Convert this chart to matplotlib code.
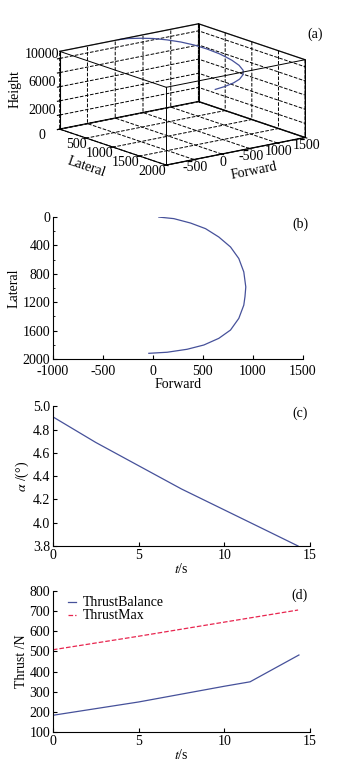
import numpy as np
import matplotlib
matplotlib.use("Agg")
import matplotlib.pyplot as plt
from matplotlib.ticker import FixedLocator, FixedFormatter, MultipleLocator, FormatStrFormatter

plt.rcParams['font.family'] = ['Liberation Serif', 'DejaVu Serif']
plt.rcParams['mathtext.fontset'] = 'stix'
plt.rcParams['font.size'] = 10
plt.rcParams['axes.unicode_minus'] = False

# trajectory
forward = [60, 210, 377, 527, 660, 777, 860, 910, 930, 922, 910, 860, 777, 660, 510, 343, 143, -40]
lateral = [0, 22, 84, 163, 281, 421, 584, 773, 985, 1120, 1241, 1428, 1592, 1709, 1803, 1863, 1905, 1920]
height = [11000, 10980, 10920, 10850, 10750, 10620, 10480, 10320, 10150, 10030, 9920,
          9750, 9580, 9440, 9300, 9180, 9080, 9000]

# angle of attack
t_alpha = [0, 2.5, 5, 7.5, 10, 12.5, 14.3]
alpha = [4.91, 4.69, 4.49, 4.29, 4.11, 3.93, 3.80]

# thrust
t_bal = [0, 5, 10, 11.5, 14.35]
thrust_bal = [183, 249, 327, 349, 482]
t_max = [0, 5, 10, 14.3]
thrust_max = [508, 575, 645, 705]

blue = '#46519a'
red = '#e8254f'

fig = plt.figure(figsize=(3.48, 7.63), dpi=100)

# ---- (a) 3D ----
ax3 = fig.add_axes([0.017, 0.753, 1.0, 0.24], projection='3d', proj_type='ortho')
ax3.plot(forward, lateral, height, color=blue, lw=0.9, clip_on=False)
ax3.set_xlim(-1000, 1500)
ax3.set_ylim(2000, 0)
ax3.set_zlim(0, 11000)
ax3.view_init(elev=15, azim=-127.5)
ax3.set_box_aspect((1, 1, 0.46), zoom=1.38)
for a in (ax3.xaxis, ax3.yaxis, ax3.zaxis):
    a.pane.fill = False
    a.pane.set_edgecolor('black')
    a._axinfo['grid']['linestyle'] = '--'
    a._axinfo['grid']['color'] = 'black'
    a._axinfo['grid']['linewidth'] = 0.7
    a.line.set_color('black')
ax3.xaxis.set_major_locator(FixedLocator([-1000, -500, 0, 500, 1000, 1500]))
ax3.xaxis.set_major_formatter(FixedFormatter(['', '-500', '0', '-500', '1000', '1500']))
ax3.yaxis.set_major_locator(FixedLocator([0, 500, 1000, 1500, 2000]))
ax3.yaxis.set_major_formatter(FixedFormatter(['', '500', '1000', '1500', '2000']))
ax3.zaxis.set_major_locator(FixedLocator([0, 2000, 4000, 6000, 8000, 10000]))
ax3.zaxis.set_major_formatter(FixedFormatter(['0', '2000', '', '6000', '', '10000']))
ax3.tick_params(axis='both', labelsize=10)
ax3.xaxis.set_tick_params(pad=-7)
ax3.yaxis.set_tick_params(pad=-8)
ax3.zaxis.set_tick_params(pad=-3)
for tk in ax3.yaxis.get_major_ticks():
    tk.label1.set_horizontalalignment('right')
for tk in ax3.zaxis.get_major_ticks()[1:]:
    tk.label1.set_verticalalignment('baseline')
ax3.set_xlabel('Forward', labelpad=-9)
ax3.set_ylabel('Lateral', labelpad=-8)
ax3.set_zlabel('Height', labelpad=-8.5)
# box edges
xl, yl, zl = (-1000, 1500), (0, 2000), (0, 11000)
for x in xl:
    for y in yl:
        ax3.plot([x, x], [y, y], zl, color='black', lw=0.7, clip_on=False)
for x in xl:
    ax3.plot([x, x], yl, [zl[1]] * 2, color='black', lw=0.7, clip_on=False)
for y in yl:
    ax3.plot(xl, [y, y], [zl[1]] * 2, color='black', lw=0.7, clip_on=False)
fig.text(0.905, 0.955, '(a)', ha='center', va='center', fontsize=10)


def style2d(ax):
    for s in ('top', 'right'):
        ax.spines[s].set_visible(False)
    ax.tick_params(direction='in', length=3, labelsize=10, pad=2)
    ax.tick_params(which='minor', direction='in', length=1.5)


# ---- (b) ----
axb = fig.add_axes([0.152, 0.5295, 0.718, 0.186])
axb.plot(forward, lateral, color=blue, lw=0.9)
axb.set_xlim(-1000, 1500)
axb.set_ylim(2000, 0)
axb.set_yticks([0, 400, 800, 1200, 1600, 2000])
axb.yaxis.set_minor_locator(MultipleLocator(200))
axb.set_xlabel('Forward', labelpad=0)
axb.set_ylabel('Lateral', labelpad=1)
style2d(axb)
axb.tick_params(axis='x', pad=4)
axb.text(0.99, 0.95, '(b)', transform=axb.transAxes, ha='center', va='center', fontsize=10)

# ---- (c) ----
axc = fig.add_axes([0.152, 0.2844, 0.739, 0.183])
axc.plot(t_alpha, alpha, color=blue, lw=0.9)
axc.set_xlim(0, 15)
axc.set_ylim(3.8, 5.0)
axc.set_xticks([0, 5, 10, 15])
axc.set_yticks([3.8, 4.0, 4.2, 4.4, 4.6, 4.8, 5.0])
axc.yaxis.set_major_formatter(FormatStrFormatter('%.1f'))
axc.set_xlabel('$t$/s', labelpad=0)
axc.set_ylabel(r'$\alpha$ /(°)', labelpad=1)
style2d(axc)
axc.text(0.96, 0.95, '(c)', transform=axc.transAxes, ha='center', va='center', fontsize=10)

# ---- (d) ----
axd = fig.add_axes([0.152, 0.0406, 0.739, 0.185])
axd.plot(t_bal, thrust_bal, color=blue, lw=0.9, label='ThrustBalance')
axd.plot(t_max, thrust_max, color=red, lw=0.9, ls='--', label='ThrustMax')
axd.set_xlim(0, 15)
axd.set_ylim(100, 800)
axd.set_xticks([0, 5, 10, 15])
axd.set_yticks(range(100, 801, 100))
axd.set_xlabel('$t$/s', labelpad=0)
axd.set_ylabel('Thrust /N', labelpad=1)
style2d(axd)
axd.legend(loc='upper left', frameon=False, handlelength=0.6, handletextpad=0.5, fontsize=10,
           borderaxespad=0.1, labelspacing=0.0, bbox_to_anchor=(0.03, 1.01))
axd.text(0.96, 0.967, '(d)', transform=axd.transAxes, ha='center', va='center', fontsize=10)

fig.savefig('out.png', dpi=100)
